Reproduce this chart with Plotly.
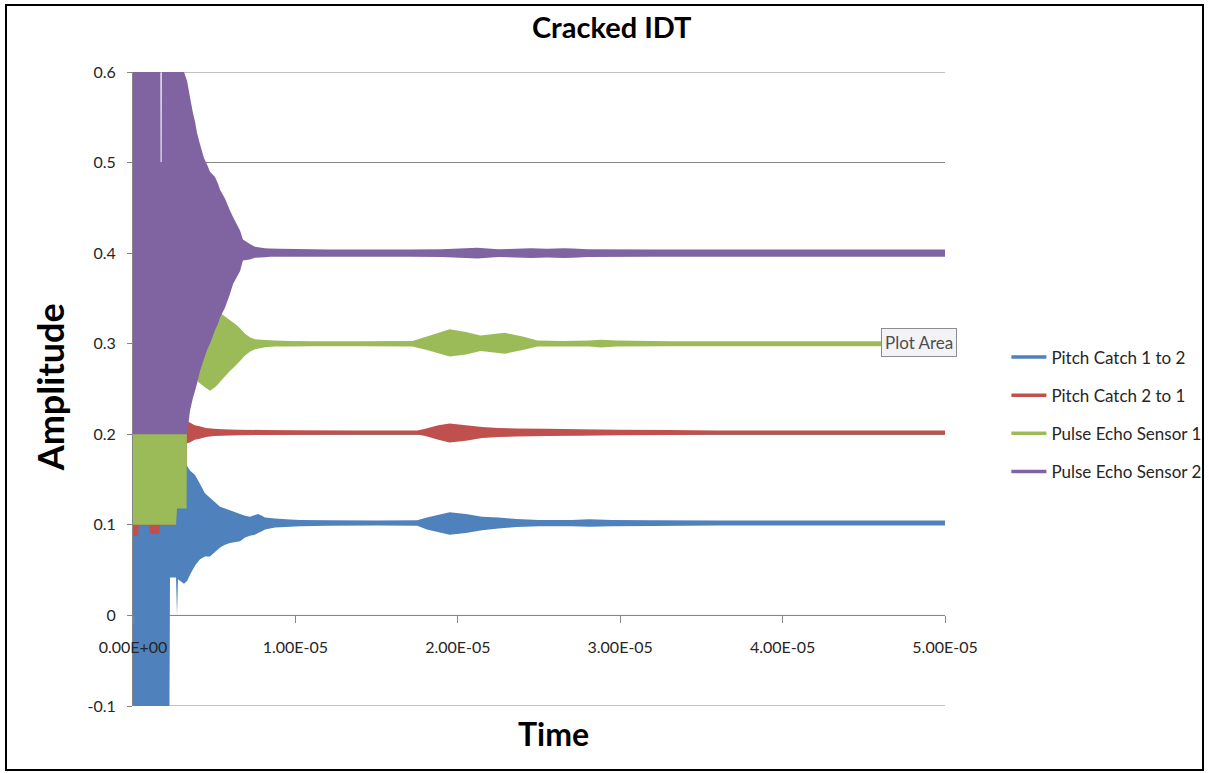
import plotly.graph_objects as go

# Time axis ticks
tick_vals = [0, 1e-5, 2e-5, 3e-5, 4e-5, 5e-5]
tick_text = ["0.00E+00", "1.00E-05", "2.00E-05", "3.00E-05", "4.00E-05", "5.00E-05"]
y_ticks = [-0.1, 0, 0.1, 0.2, 0.3, 0.4, 0.5, 0.6]
y_tick_text = ["-0.1", "0", "0.1", "0.2", "0.3", "0.4", "0.5", "0.6"]

series_names = ["Pitch Catch 1 to 2", "Pitch Catch 2 to 1",
                "Pulse Echo Sensor 1", "Pulse Echo Sensor 2"]
series_colors = ["#4F81BD", "#C0504D", "#9BBB59", "#8064A2"]

# Signal envelopes (time in microseconds, upper / lower amplitude)
pc12_t = [0, 2.22, 2.28, 2.65, 2.71, 2.77, 3.14, 3.33, 3.51, 3.82, 4.13, 4.43,
          4.74, 5.05, 5.36, 5.67, 5.97, 6.59, 6.90, 7.20, 7.51, 7.70, 7.94, 8.13,
          8.74, 9.67, 10.3, 12.0, 15.0, 17.5, 18.1, 19.5, 20.5, 21.5, 22.5, 23.6,
          25.0, 27.0, 28.1, 29.5, 32.0, 36.0, 42.0, 50.0]
pc12_hi = [0.25, 0.25, 0.25, 0.25, 0.25, 0.25, 0.20, 0.165, 0.160, 0.155, 0.145, 0.135,
           0.130, 0.125, 0.120, 0.118, 0.116, 0.112, 0.110, 0.109, 0.111, 0.112, 0.110, 0.108,
           0.107, 0.106, 0.1055, 0.105, 0.1048, 0.105, 0.108, 0.114, 0.112, 0.109, 0.108, 0.1065,
           0.1055, 0.1055, 0.1062, 0.1055, 0.1052, 0.1048, 0.1048, 0.1048]
pc12_lo = [-0.2, -0.2, 0.042, 0.042, 0.0, 0.040, 0.035, 0.038, 0.045, 0.055, 0.062, 0.065,
           0.065, 0.070, 0.075, 0.078, 0.080, 0.082, 0.086, 0.088, 0.089, 0.091, 0.093, 0.095,
           0.097, 0.098, 0.0985, 0.099, 0.0992, 0.099, 0.095, 0.089, 0.091, 0.094, 0.096, 0.0975,
           0.0985, 0.0985, 0.0978, 0.0985, 0.0988, 0.0992, 0.0992, 0.0992]

pc21_t = [0, 0.06, 0.31, 0.37, 0.99, 1.05, 1.60, 1.66, 2.62, 2.68, 3.20, 3.33, 3.5,
          3.8, 4.1, 4.5, 5.0, 5.5, 6.5, 8.0, 10.0, 14.0, 17.5, 18.0, 18.8, 19.5, 20.5,
          21.5, 22.5, 23.6, 25.5, 27.5, 30.0, 33.0, 36.0, 50.0]
pc21_hi = [0.3, 0.3, 0.3, 0.3, 0.3, 0.3, 0.3, 0.3, 0.3, 0.3, 0.3, 0.214, 0.213,
           0.210, 0.209, 0.207, 0.206, 0.2055, 0.205, 0.2048, 0.2045, 0.2042, 0.2042, 0.206, 0.210,
           0.212, 0.210, 0.208, 0.207, 0.2065, 0.206, 0.2055, 0.205, 0.2048, 0.2042, 0.2042]
pc21_lo = [0.1, 0.088, 0.088, 0.1, 0.1, 0.09, 0.09, 0.1, 0.1, 0.125, 0.125, 0.19, 0.191,
           0.194, 0.195, 0.197, 0.198, 0.1985, 0.199, 0.1992, 0.1995, 0.1998, 0.1998, 0.198, 0.194,
           0.191, 0.193, 0.196, 0.197, 0.1975, 0.198, 0.1985, 0.199, 0.1992, 0.1998, 0.1998]

pe1_t = [0, 2.65, 2.71, 3.30, 3.33, 3.51, 3.82, 4.0, 4.43, 4.74, 5.05, 5.23, 5.36,
         5.67, 5.97, 6.28, 6.59, 6.9, 7.2, 7.51, 8.13, 8.74, 9.67, 11.0, 14.0, 17.2,
         18.1, 19.5, 20.5, 21.4, 22.9, 24.0, 24.9, 26.5, 28.1, 28.8, 29.8, 33.0, 40.0, 50.0]
pe1_hi = [0.45, 0.45, 0.45, 0.45, 0.45, 0.45, 0.45, 0.45, 0.45, 0.45, 0.40, 0.345, 0.334,
          0.330, 0.326, 0.322, 0.317, 0.311, 0.307, 0.305, 0.304, 0.3035, 0.303, 0.3028, 0.3028, 0.303,
          0.308, 0.316, 0.313, 0.309, 0.312, 0.308, 0.3035, 0.303, 0.3035, 0.3045, 0.3035, 0.3028, 0.3028, 0.3028]
pe1_lo = [0.1, 0.1, 0.118, 0.118, 0.27, 0.27, 0.27, 0.258, 0.252, 0.248, 0.252, 0.255, 0.258,
          0.264, 0.270, 0.275, 0.281, 0.287, 0.291, 0.294, 0.296, 0.2968, 0.297, 0.2972, 0.2972, 0.297,
          0.293, 0.286, 0.288, 0.292, 0.289, 0.293, 0.2968, 0.297, 0.2968, 0.2958, 0.2968, 0.2972, 0.2972, 0.2972]

pe2_t = [0, 1.68, 1.70, 1.76, 1.78, 3.14, 3.33, 3.51, 3.69, 3.82, 3.94, 4.13, 4.37,
         4.56, 4.74, 5.05, 5.23, 5.36, 5.67, 5.97, 6.16, 6.59, 6.77, 7.20, 7.51, 8.13,
         8.44, 9.05, 10.1, 12.0, 17.0, 19.0, 21.2, 22.5, 24.5, 25.5, 26.5, 27.1, 28.0,
         32.0, 40.0, 50.0]
pe2_hi = [0.7, 0.7, 0.5, 0.5, 0.7, 0.6, 0.59, 0.572, 0.555, 0.545, 0.533, 0.52, 0.505,
          0.498, 0.49, 0.484, 0.477, 0.47, 0.46, 0.447, 0.44, 0.425, 0.415, 0.41, 0.407, 0.4055,
          0.405, 0.4048, 0.4045, 0.404, 0.404, 0.4042, 0.406, 0.4042, 0.4055, 0.4048, 0.4055, 0.405, 0.4042,
          0.404, 0.4039, 0.4039]
pe2_lo = [0.2, 0.2, 0.2, 0.2, 0.2, 0.2, 0.2, 0.226, 0.24, 0.248, 0.256, 0.27, 0.283,
          0.293, 0.30, 0.315, 0.322, 0.329, 0.34, 0.355, 0.366, 0.38, 0.392, 0.393, 0.395, 0.3955,
          0.396, 0.396, 0.396, 0.3961, 0.3961, 0.3958, 0.394, 0.3958, 0.3945, 0.3952, 0.3945, 0.395, 0.3958,
          0.3961, 0.3961, 0.3961]

envelopes = [(pc12_t, pc12_hi, pc12_lo), (pc21_t, pc21_hi, pc21_lo),
             (pe1_t, pe1_hi, pe1_lo), (pe2_t, pe2_hi, pe2_lo)]

FONT = "Lato, 'Open Sans', sans-serif"
GRID = "#868686"

fig = go.Figure()

# Each signal is drawn as the filled band between its upper and lower envelope
for name, color, (t_us, hi, lo) in zip(series_names, series_colors, envelopes):
    t = [v * 1e-6 for v in t_us]
    fig.add_trace(go.Scatter(
        x=t + t[::-1], y=hi + lo[::-1],
        mode="none", fill="toself", fillcolor=color,
        showlegend=False, hoverinfo="skip",
    ))

# Legend entries drawn as line swatches
for name, color in zip(series_names, series_colors):
    fig.add_trace(go.Scatter(
        x=[None], y=[None], mode="lines", name=name, legendgroup=name,
        line=dict(color=color, width=3.5),
    ))

# Horizontal rules at the outer ends of the amplitude range and the time axis at zero
rules = [
    dict(type="line", xref="paper", yref="y", x0=0, x1=1, y0=v, y1=v,
         line=dict(color=GRID, width=1), layer="below")
    for v in (y_ticks[0], y_ticks[-1], 0)
]

fig.update_layout(
    width=1209, height=773,
    margin=dict(l=133, r=264, t=72, b=67, autoexpand=False),
    paper_bgcolor="white", plot_bgcolor="white",
    font=dict(family=FONT, color="#262626"),
    title=dict(text="<b>Cracked IDT</b>", x=0.506, xref="container", xanchor="center",
               y=1 - 28 / 773, yref="container", yanchor="middle",
               font=dict(size=29, color="#000000", family=FONT)),
    showlegend=True,
    legend=dict(x=1.0756, xanchor="left", y=0.578, yanchor="top",
                font=dict(size=17, color="#262626", family=FONT),
                tracegroupgap=13, itemwidth=35, bgcolor="rgba(0,0,0,0)"),
    xaxis=dict(
        range=[0, 5e-5], tickvals=tick_vals, ticktext=tick_text,
        anchor="free", position=1 / 7,
        showline=False,
        ticks="outside", ticklen=7, tickcolor=GRID,
        showgrid=False, zeroline=False, layer="above traces",
        ticklabelstandoff=10, tickfont=dict(size=16, color="#262626"),
    ),
    yaxis=dict(
        range=[-0.1, 0.6], tickvals=y_ticks, ticktext=y_tick_text,
        showline=True, linecolor=GRID, linewidth=1,
        ticks="outside", ticklen=5, tickcolor=GRID,
        showgrid=True, gridcolor=GRID, gridwidth=1, zeroline=False,
        layer="below traces", ticklabelstandoff=8,
        tickfont=dict(size=16, color="#262626"),
    ),
    annotations=[
        dict(text="<b>Time</b>", x=0.518, y=-0.0426, xref="paper", yref="paper",
             xanchor="center", yanchor="middle", showarrow=False,
             font=dict(size=32, color="#000000", family=FONT)),
        dict(text="<b>Amplitude</b>", x=-0.102, y=0.503, xref="paper", yref="paper",
             xanchor="center", yanchor="middle", showarrow=False, textangle=-90,
             font=dict(size=36, color="#000000", family=FONT)),
        dict(text="Plot Area", x=0.9685, y=0.574, xref="paper", yref="paper",
             xanchor="center", yanchor="middle", showarrow=False,
             bgcolor="#F3F3F7", bordercolor="#8C8C8C", borderwidth=1, borderpad=3,
             font=dict(size=17, color="#4D4D4D", family=FONT)),
    ],
    shapes=rules + [
        dict(type="rect", xref="paper", yref="paper",
             x0=(6 - 133) / 812, x1=(1203 - 133) / 812,
             y0=(706 - 770) / 634, y1=(706 - 5) / 634,
             line=dict(color="#000000", width=2), fillcolor="rgba(0,0,0,0)", layer="above"),
    ],
)

fig.write_html("out.html")
